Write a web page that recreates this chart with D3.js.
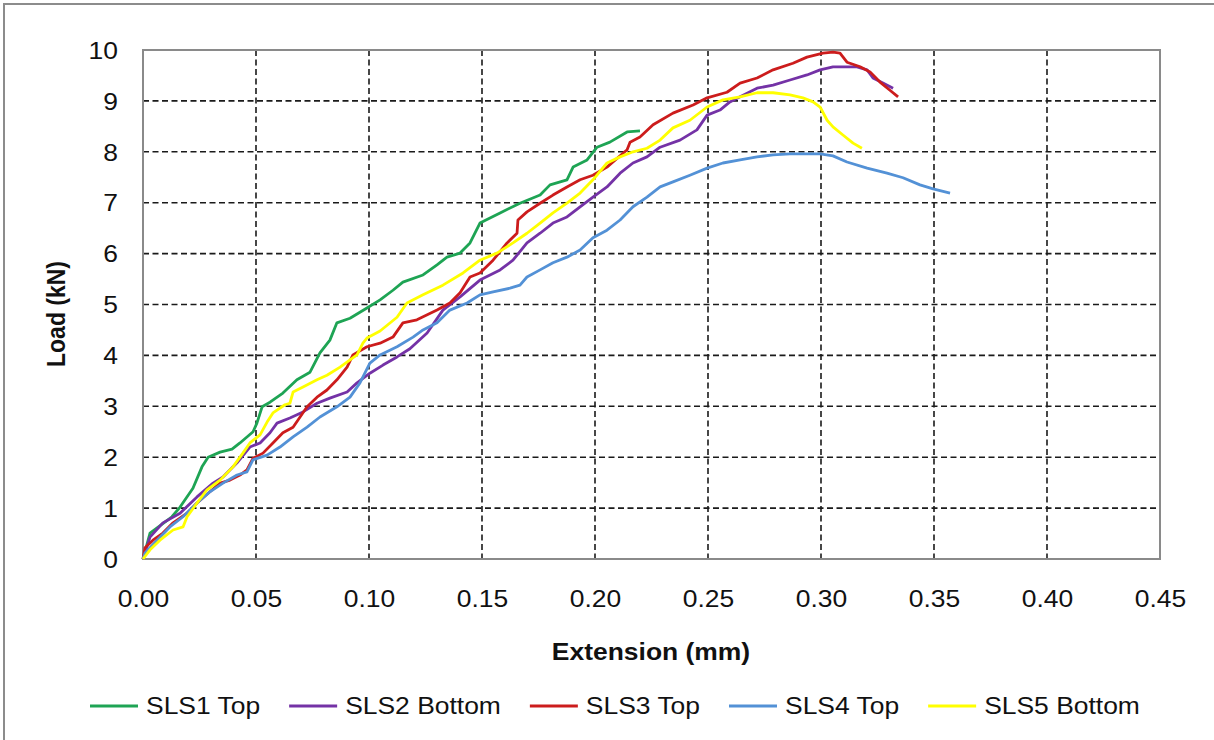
<!DOCTYPE html>
<html>
<head>
<meta charset="utf-8">
<script src="https://cdn.jsdelivr.net/npm/d3@7"></script>
<style>
  html, body { margin: 0; padding: 0; background: #fff; }
  svg { display: block; }
  text { font-family: "Liberation Sans", Arial, sans-serif; fill: #111; }
</style>
</head>
<body>
<svg id="chart" width="1214" height="740"></svg>
<script>
// ---- Data (extension in mm, load in kN) ----
const seriesNames = ["SLS1 Top", "SLS2 Bottom", "SLS3 Top", "SLS4 Top", "SLS5 Bottom"];
const seriesColors = ["#1ea454", "#7432a6", "#cc1c1c", "#5391d6", "#ffff00"];

const xTicks = [0, 0.05, 0.10, 0.15, 0.20, 0.25, 0.30, 0.35, 0.40, 0.45];
const yTicks = [0, 1, 2, 3, 4, 5, 6, 7, 8, 9, 10];

const sls1Top = [
  [0,0],[0.0031,0.51],[0.0128,0.83],[0.0164,1.02],[0.0221,1.39],[0.0261,1.81],[0.0288,2.00],
  [0.0341,2.10],[0.0394,2.16],[0.0429,2.28],[0.0487,2.50],[0.0504,2.67],[0.0527,2.99],
  [0.0562,3.08],[0.0619,3.26],[0.0681,3.52],[0.0739,3.67],[0.0783,4.05],[0.0827,4.30],
  [0.0858,4.64],[0.0916,4.73],[0.0991,4.93],[0.1049,5.09],[0.1106,5.28],[0.1150,5.44],
  [0.1239,5.58],[0.1301,5.78],[0.1345,5.93],[0.1403,6.01],[0.1447,6.21],[0.1491,6.60],
  [0.1580,6.80],[0.1668,6.99],[0.1757,7.15],[0.1801,7.35],[0.1876,7.45],[0.1903,7.70],
  [0.1965,7.84],[0.2009,8.09],[0.2066,8.19],[0.2142,8.39],[0.2199,8.41]
];
const sls2Bottom = [
  [0,0],[0.0031,0.43],[0.0088,0.71],[0.0164,0.90],[0.0239,1.22],[0.0310,1.49],[0.0354,1.61],
  [0.0416,1.89],[0.0473,2.20],[0.0518,2.28],[0.0562,2.48],[0.0593,2.67],[0.0650,2.77],
  [0.0708,2.89],[0.0770,3.06],[0.0827,3.16],[0.0903,3.28],[0.0947,3.46],[0.1004,3.65],
  [0.1062,3.81],[0.1124,3.97],[0.1181,4.13],[0.1257,4.44],[0.1327,4.89],[0.1403,5.15],
  [0.1491,5.48],[0.1580,5.68],[0.1637,5.87],[0.1699,6.21],[0.1757,6.40],[0.1814,6.60],
  [0.1876,6.72],[0.1934,6.92],[0.1991,7.11],[0.2053,7.31],[0.2111,7.58],[0.2168,7.78],
  [0.2230,7.90],[0.2288,8.09],[0.2376,8.23],[0.2451,8.43],[0.2496,8.72],[0.2553,8.82],
  [0.2597,8.98],[0.2642,9.08],[0.2717,9.25],[0.2788,9.31],[0.2863,9.41],[0.2938,9.51],
  [0.2996,9.61],[0.3053,9.67],[0.3159,9.67],[0.3204,9.61],[0.3230,9.45],[0.3274,9.35],
  [0.3319,9.25]
];
const sls3Top = [
  [0,0],[0.0009,0.22],[0.0044,0.37],[0.0088,0.51],[0.0133,0.71],[0.0195,0.90],[0.0239,1.10],
  [0.0296,1.32],[0.0341,1.49],[0.0385,1.55],[0.0429,1.65],[0.0460,1.75],[0.0487,1.98],
  [0.0531,2.08],[0.0575,2.28],[0.0619,2.48],[0.0664,2.59],[0.0695,2.79],[0.0726,2.99],
  [0.0770,3.18],[0.0814,3.32],[0.0858,3.52],[0.0903,3.77],[0.0929,4.01],[0.0991,4.17],
  [0.1049,4.24],[0.1106,4.36],[0.1150,4.64],[0.1212,4.70],[0.1301,4.89],[0.1358,5.03],
  [0.1403,5.23],[0.1447,5.54],[0.1491,5.62],[0.1549,5.87],[0.1611,6.21],[0.1655,6.40],
  [0.1659,6.66],[0.1699,6.82],[0.1757,6.99],[0.1814,7.15],[0.1876,7.31],[0.1934,7.45],
  [0.1991,7.54],[0.2053,7.70],[0.2142,8.04],[0.2155,8.19],[0.2199,8.29],[0.2257,8.53],
  [0.2345,8.76],[0.2434,8.92],[0.2496,9.06],[0.2584,9.17],[0.2642,9.35],[0.2717,9.45],
  [0.2788,9.61],[0.2876,9.74],[0.2938,9.86],[0.3009,9.94],[0.3053,9.96],[0.3084,9.94],
  [0.3115,9.76],[0.3173,9.67],[0.3217,9.57],[0.3261,9.37],[0.3305,9.21],[0.3341,9.08]
];
const sls4Top = [
  [0,0],[0.0009,0.12],[0.0062,0.37],[0.0119,0.63],[0.0177,0.83],[0.0239,1.10],[0.0296,1.32],
  [0.0354,1.49],[0.0416,1.65],[0.0460,1.71],[0.0487,1.95],[0.0549,2.04],[0.0606,2.20],
  [0.0664,2.40],[0.0726,2.59],[0.0783,2.79],[0.0858,2.99],[0.0916,3.18],[0.0960,3.46],
  [0.1004,3.85],[0.1049,4.01],[0.1124,4.17],[0.1195,4.36],[0.1239,4.50],[0.1301,4.64],
  [0.1358,4.89],[0.1434,5.03],[0.1491,5.19],[0.1549,5.25],[0.1624,5.32],[0.1668,5.38],
  [0.1699,5.54],[0.1757,5.68],[0.1814,5.82],[0.1876,5.93],[0.1934,6.07],[0.1991,6.31],
  [0.2053,6.46],[0.2111,6.66],[0.2168,6.92],[0.2230,7.11],[0.2288,7.31],[0.2345,7.41],
  [0.2420,7.54],[0.2496,7.68],[0.2566,7.78],[0.2642,7.84],[0.2717,7.90],[0.2788,7.94],
  [0.2863,7.96],[0.2996,7.96],[0.3053,7.92],[0.3115,7.80],[0.3204,7.68],[0.3292,7.58],
  [0.3363,7.49],[0.3438,7.35],[0.3496,7.27],[0.3571,7.19]
];
const sls5Bottom = [
  [0,0],[0.0031,0.18],[0.0075,0.37],[0.0133,0.57],[0.0177,0.63],[0.0195,0.83],[0.0239,1.10],
  [0.0283,1.36],[0.0341,1.55],[0.0398,1.81],[0.0442,2.08],[0.0473,2.28],[0.0518,2.44],
  [0.0549,2.69],[0.0575,2.87],[0.0628,3.03],[0.0650,3.06],[0.0664,3.28],[0.0708,3.38],
  [0.0770,3.52],[0.0814,3.61],[0.0872,3.77],[0.0916,3.91],[0.0947,4.01],[0.0973,4.24],
  [0.0991,4.34],[0.1049,4.48],[0.1124,4.75],[0.1168,5.03],[0.1239,5.19],[0.1327,5.38],
  [0.1416,5.62],[0.1491,5.87],[0.1566,6.01],[0.1637,6.21],[0.1699,6.40],[0.1757,6.60],
  [0.1814,6.80],[0.1876,6.99],[0.1934,7.19],[0.1991,7.45],[0.2053,7.78],[0.2111,7.90],
  [0.2168,8.00],[0.2230,8.07],[0.2288,8.23],[0.2345,8.47],[0.2420,8.62],[0.2496,8.88],
  [0.2566,9.02],[0.2642,9.08],[0.2717,9.16],[0.2788,9.16],[0.2863,9.12],[0.2920,9.06],
  [0.2965,8.98],[0.2996,8.88],[0.3027,8.62],[0.3053,8.49],[0.3097,8.33],[0.3142,8.17],
  [0.3181,8.07]
];
const seriesData = [sls1Top, sls2Bottom, sls3Top, sls4Top, sls5Bottom];

// ---- Layout ----
const W = 1214, H = 740;
const plot = { left: 143, right: 1160, top: 50, bottom: 559 };
const SX = 1.15;      // horizontal stretch of the original picture's text
const FS = 23;        // font size

const svg = d3.select("#chart");

// outer frame
svg.append("rect").attr("x", 4).attr("y", 4).attr("width", W + 10).attr("height", H + 10)
  .attr("fill", "#fff").attr("stroke", "#8c8c8c").attr("stroke-width", 2);

const x = d3.scaleLinear().domain([0, 0.45]).range([plot.left, plot.right]);
const y = d3.scaleLinear().domain([0, 10]).range([plot.bottom, plot.top]);

// gridlines
const grid = svg.append("g");
grid.selectAll(".vg").data(xTicks.slice(1, -1)).join("line")
  .attr("x1", d => x(d)).attr("x2", d => x(d))
  .attr("y1", plot.top).attr("y2", plot.bottom)
  .attr("stroke", "#1a1a1a").attr("stroke-width", 1.6).attr("stroke-dasharray", "6,3.5");
grid.selectAll(".hg").data(yTicks.slice(1, -1)).join("line")
  .attr("y1", d => y(d)).attr("y2", d => y(d))
  .attr("x1", plot.left).attr("x2", plot.right)
  .attr("stroke", "#1a1a1a").attr("stroke-width", 1.6).attr("stroke-dasharray", "6,3.5");

// plot frame
svg.append("rect").attr("x", plot.left).attr("y", plot.top)
  .attr("width", plot.right - plot.left).attr("height", plot.bottom - plot.top)
  .attr("fill", "none").attr("stroke", "#8a8a8a").attr("stroke-width", 2);

// axes (labels only)
const xAxis = svg.append("g").attr("transform", `translate(0,${plot.bottom})`)
  .call(d3.axisBottom(x).tickValues(xTicks).tickFormat(d3.format(".2f")).tickSize(0).tickPadding(0));
xAxis.select(".domain").remove();
xAxis.selectAll("text").attr("y", 0).attr("dy", null)
  .attr("transform", `translate(0,48) scale(${SX},1)`)
  .style("font-size", FS + "px").style("font-family", '"Liberation Sans", Arial, sans-serif')
  .attr("fill", "#111");

const yAxis = svg.append("g").attr("transform", `translate(118,0)`)
  .call(d3.axisLeft(y).tickValues(yTicks).tickFormat(d3.format("d")).tickSize(0).tickPadding(0));
yAxis.select(".domain").remove();
yAxis.selectAll("text").attr("x", 0).attr("dy", "0.36em")
  .attr("transform", `scale(${SX},1)`)
  .style("font-size", FS + "px").style("font-family", '"Liberation Sans", Arial, sans-serif')
  .attr("fill", "#111");

// axis titles
svg.append("text")
  .attr("transform", `translate(651,660) scale(${SX},1)`)
  .attr("text-anchor", "middle").style("font-size", FS + "px").style("font-weight", "bold")
  .text("Extension (mm)");
svg.append("text")
  .attr("transform", `translate(65,314) rotate(-90) scale(1,${SX})`)
  .attr("text-anchor", "middle").style("font-size", FS + "px").style("font-weight", "bold")
  .text("Load (kN)");

// series lines
const line = d3.line().x(d => x(d[0])).y(d => y(d[1]));
svg.append("g")
  .selectAll("path").data(seriesData).join("path")
  .attr("d", line)
  .attr("fill", "none")
  .attr("stroke", (d, i) => seriesColors[i])
  .attr("stroke-width", 2.8)
  .attr("stroke-linejoin", "round");

// legend
const legend = svg.append("g");
let lx = 90;
const ly = 706;
seriesNames.forEach((name, i) => {
  legend.append("line").attr("x1", lx).attr("x2", lx + 48).attr("y1", ly).attr("y2", ly)
    .attr("stroke", seriesColors[i]).attr("stroke-width", 2.8);
  const t = legend.append("text")
    .attr("transform", `translate(${lx + 56},${ly}) scale(${SX},1)`)
    .attr("dy", "0.36em").style("font-size", FS + "px").text(name);
  const w = t.node().getComputedTextLength() * SX;
  lx += 56 + w + 29;
});
</script>
</body>
</html>
